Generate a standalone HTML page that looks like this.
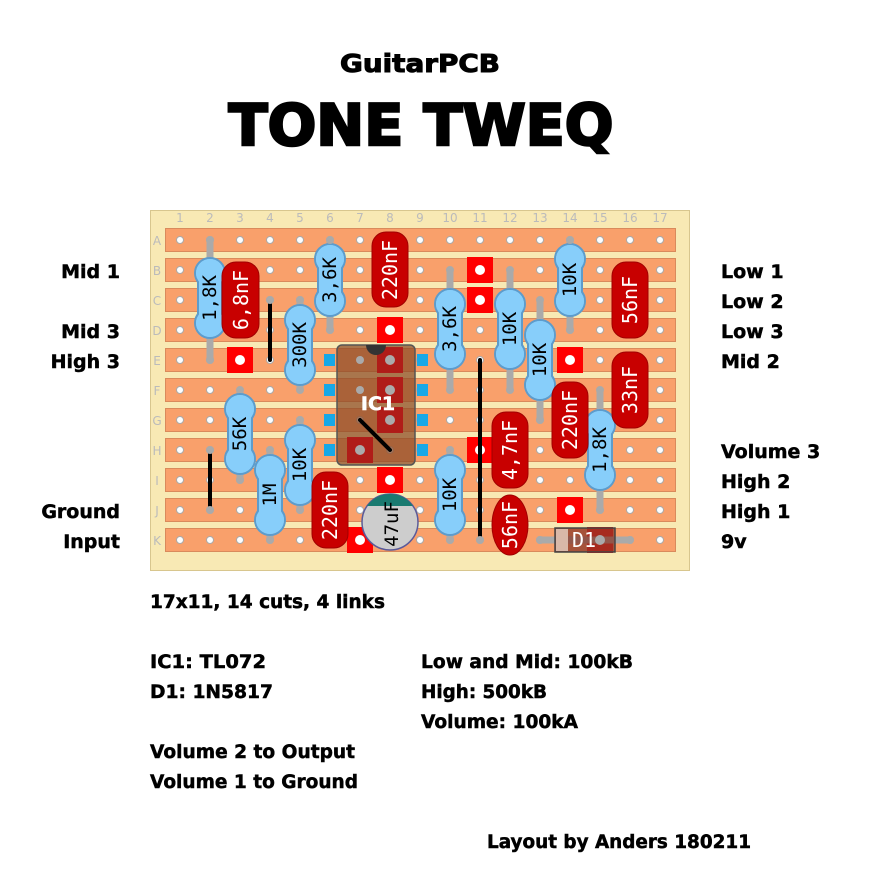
<!DOCTYPE html>
<html><head><meta charset="utf-8">
<style>
html,body{margin:0;padding:0;background:#fff;}
svg{display:block;}
.lbl{font-family:"DejaVu Sans","Liberation Sans",sans-serif;font-weight:bold;font-size:19px;fill:#000;stroke:#000;stroke-width:0.5;}
.num{font-family:"DejaVu Sans","Liberation Sans",sans-serif;font-size:12px;fill:#bbb;}
.rt{font-family:"DejaVu Sans Mono","Liberation Mono",monospace;font-size:19px;fill:#000;}
.ct{font-family:"DejaVu Sans Mono","Liberation Mono",monospace;font-size:20px;fill:#fff;}
</style></head><body>
<svg width="871" height="884" viewBox="0 0 871 884" xmlns="http://www.w3.org/2000/svg">
<rect width="871" height="884" fill="#fff"/>
<text x="420" y="72" text-anchor="middle" class="lbl" style="font-size:25px;stroke-width:1" textLength="160" lengthAdjust="spacingAndGlyphs">GuitarPCB</text>
<text x="421" y="145" text-anchor="middle" class="lbl" style="font-size:57px;stroke-width:2.5" textLength="385" lengthAdjust="spacingAndGlyphs">TONE TWEQ</text>

<!-- board -->
<rect x="150.5" y="210.5" width="539" height="360" fill="#f8e9b4" stroke="#d8c68e"/>
<g class="num" text-anchor="middle">
<text x="180" y="222">1</text><text x="210" y="222">2</text><text x="240" y="222">3</text><text x="270" y="222">4</text><text x="300" y="222">5</text><text x="330" y="222">6</text><text x="360" y="222">7</text><text x="390" y="222">8</text><text x="420" y="222">9</text><text x="450" y="222">10</text><text x="480" y="222">11</text><text x="510" y="222">12</text><text x="540" y="222">13</text><text x="570" y="222">14</text><text x="600" y="222">15</text><text x="630" y="222">16</text><text x="660" y="222">17</text>
<text x="157" y="245">A</text><text x="157" y="275">B</text><text x="157" y="305">C</text><text x="157" y="335">D</text><text x="157" y="365">E</text><text x="157" y="395">F</text><text x="157" y="425">G</text><text x="157" y="455">H</text><text x="157" y="485">I</text><text x="157" y="515">J</text><text x="157" y="545">K</text>
</g>
<g fill="#f9a06b" stroke="#d98a5c">
<rect x="165.5" y="228.5" width="510" height="23"/><rect x="165.5" y="258.5" width="510" height="23"/><rect x="165.5" y="288.5" width="510" height="23"/><rect x="165.5" y="318.5" width="510" height="23"/><rect x="165.5" y="348.5" width="510" height="23"/><rect x="165.5" y="378.5" width="510" height="23"/><rect x="165.5" y="408.5" width="510" height="23"/><rect x="165.5" y="438.5" width="510" height="23"/><rect x="165.5" y="468.5" width="510" height="23"/><rect x="165.5" y="498.5" width="510" height="23"/><rect x="165.5" y="528.5" width="510" height="23"/>
</g>
<defs>
<g id="hrow"><circle cx="180" cy="0" r="3.5"/><circle cx="210" cy="0" r="3.5"/><circle cx="240" cy="0" r="3.5"/><circle cx="270" cy="0" r="3.5"/><circle cx="300" cy="0" r="3.5"/><circle cx="330" cy="0" r="3.5"/><circle cx="360" cy="0" r="3.5"/><circle cx="390" cy="0" r="3.5"/><circle cx="420" cy="0" r="3.5"/><circle cx="450" cy="0" r="3.5"/><circle cx="480" cy="0" r="3.5"/><circle cx="510" cy="0" r="3.5"/><circle cx="540" cy="0" r="3.5"/><circle cx="570" cy="0" r="3.5"/><circle cx="600" cy="0" r="3.5"/><circle cx="630" cy="0" r="3.5"/><circle cx="660" cy="0" r="3.5"/></g>
</defs>
<g fill="#fff" stroke="#aaa" stroke-width="1">
<use href="#hrow" y="240"/><use href="#hrow" y="270"/><use href="#hrow" y="300"/><use href="#hrow" y="330"/><use href="#hrow" y="360"/><use href="#hrow" y="390"/><use href="#hrow" y="420"/><use href="#hrow" y="450"/><use href="#hrow" y="480"/><use href="#hrow" y="510"/><use href="#hrow" y="540"/>
</g>

<!-- cuts -->
<g fill="#f00">
<rect x="227" y="347" width="26" height="26"/><rect x="377" y="317" width="26" height="26"/><rect x="467" y="257" width="26" height="26"/><rect x="467" y="287" width="26" height="26"/><rect x="557" y="347" width="26" height="26"/><rect x="467" y="437" width="26" height="26"/><rect x="377" y="467" width="26" height="26"/><rect x="347" y="527" width="26" height="26"/><rect x="557" y="497" width="26" height="26"/><rect x="587" y="527" width="26" height="26"/>
</g>
<g fill="#fff">
<circle cx="240" cy="360" r="5"/><circle cx="390" cy="330" r="5"/><circle cx="480" cy="270" r="5"/><circle cx="480" cy="300" r="5"/><circle cx="570" cy="360" r="5"/><circle cx="480" cy="450" r="5"/><circle cx="390" cy="480" r="5"/><circle cx="360" cy="540" r="5"/><circle cx="570" cy="510" r="5"/>
</g>

<!-- IC -->
<rect x="337" y="345" width="78" height="120" rx="5" fill="#8a4a25" fill-opacity="0.72" stroke="#555" stroke-width="1.5"/>
<g fill="#b01515" fill-opacity="0.9">
<rect x="377" y="347" width="26" height="26"/><rect x="377" y="377" width="26" height="26"/><rect x="377" y="407" width="26" height="26"/><rect x="347" y="437" width="26" height="26"/>
</g>
<g fill="#aaa"><circle cx="360" cy="360" r="4"/><circle cx="390" cy="360" r="5"/><circle cx="360" cy="390" r="4"/><circle cx="390" cy="390" r="5"/><circle cx="390" cy="420" r="5"/><circle cx="360" cy="450" r="5"/></g>
<path d="M366,345 A10,10 0 0 0 386,345 Z" fill="#333"/>
<g fill="#18a8e8"><rect x="324" y="354" width="11" height="12"/><rect x="324" y="384" width="11" height="12"/><rect x="324" y="414" width="11" height="12"/><rect x="324" y="444" width="11" height="12"/><rect x="417" y="354" width="11" height="12"/><rect x="417" y="384" width="11" height="12"/><rect x="417" y="414" width="11" height="12"/><rect x="417" y="444" width="11" height="12"/></g>
<text x="378" y="410" text-anchor="middle" class="lbl" style="fill:#fff;stroke:#fff;font-size:19px">IC1</text>

<!-- links -->
<g stroke="#000" stroke-width="4" stroke-linecap="round">
<line x1="270" y1="300" x2="270" y2="360"/><line x1="480" y1="360" x2="480" y2="540"/><line x1="210" y1="450" x2="210" y2="510"/><line x1="360" y1="420" x2="390" y2="450"/>
</g>

<!-- resistor leads -->
<g stroke="#aaa" stroke-width="7" stroke-linecap="round">
<line x1="210" y1="240" x2="210" y2="360"/><line x1="300" y1="300" x2="300" y2="390"/><line x1="330" y1="240" x2="330" y2="330"/><line x1="450" y1="270" x2="450" y2="390"/><line x1="510" y1="270" x2="510" y2="390"/><line x1="540" y1="300" x2="540" y2="420"/><line x1="570" y1="240" x2="570" y2="330"/><line x1="600" y1="390" x2="600" y2="510"/><line x1="450" y1="450" x2="450" y2="540"/><line x1="240" y1="390" x2="240" y2="480"/><line x1="300" y1="420" x2="300" y2="510"/><line x1="270" y1="450" x2="270" y2="540"/><line x1="540" y1="540" x2="630" y2="540"/>
</g>

<!-- resistor bodies -->
<g fill="#87cefa" stroke="#5d9ccc" stroke-width="2">
<circle cx="210" cy="273" r="15"/><circle cx="210" cy="323" r="15"/><rect x="198" y="273" width="24" height="50"/>
<circle cx="300" cy="320" r="15"/><circle cx="300" cy="370" r="15"/><rect x="288" y="320" width="24" height="50"/>
<circle cx="330" cy="259" r="15"/><circle cx="330" cy="301" r="15"/><rect x="318" y="259" width="24" height="42"/>
<circle cx="450" cy="304" r="15"/><circle cx="450" cy="354" r="15"/><rect x="438" y="304" width="24" height="50"/>
<circle cx="510" cy="304" r="15"/><circle cx="510" cy="354" r="15"/><rect x="498" y="304" width="24" height="50"/>
<circle cx="540" cy="335" r="15"/><circle cx="540" cy="385" r="15"/><rect x="528" y="335" width="24" height="50"/>
<circle cx="570" cy="259" r="15"/><circle cx="570" cy="301" r="15"/><rect x="558" y="259" width="24" height="42"/>
<circle cx="600" cy="425" r="15"/><circle cx="600" cy="475" r="15"/><rect x="588" y="425" width="24" height="50"/>
<circle cx="450" cy="470" r="15"/><circle cx="450" cy="520" r="15"/><rect x="438" y="470" width="24" height="50"/>
<circle cx="240" cy="409" r="15"/><circle cx="240" cy="459" r="15"/><rect x="228" y="409" width="24" height="50"/>
<circle cx="300" cy="440" r="15"/><circle cx="300" cy="490" r="15"/><rect x="288" y="440" width="24" height="50"/>
<circle cx="270" cy="470" r="15"/><circle cx="270" cy="520" r="15"/><rect x="258" y="470" width="24" height="50"/>
</g>
<g fill="#87cefa">
<circle cx="210" cy="273" r="14"/><circle cx="210" cy="323" r="14"/><rect x="199" y="273" width="22" height="50"/>
<circle cx="300" cy="320" r="14"/><circle cx="300" cy="370" r="14"/><rect x="289" y="320" width="22" height="50"/>
<circle cx="330" cy="259" r="14"/><circle cx="330" cy="301" r="14"/><rect x="319" y="259" width="22" height="42"/>
<circle cx="450" cy="304" r="14"/><circle cx="450" cy="354" r="14"/><rect x="439" y="304" width="22" height="50"/>
<circle cx="510" cy="304" r="14"/><circle cx="510" cy="354" r="14"/><rect x="499" y="304" width="22" height="50"/>
<circle cx="540" cy="335" r="14"/><circle cx="540" cy="385" r="14"/><rect x="529" y="335" width="22" height="50"/>
<circle cx="570" cy="259" r="14"/><circle cx="570" cy="301" r="14"/><rect x="559" y="259" width="22" height="42"/>
<circle cx="600" cy="425" r="14"/><circle cx="600" cy="475" r="14"/><rect x="589" y="425" width="22" height="50"/>
<circle cx="450" cy="470" r="14"/><circle cx="450" cy="520" r="14"/><rect x="439" y="470" width="22" height="50"/>
<circle cx="240" cy="409" r="14"/><circle cx="240" cy="459" r="14"/><rect x="229" y="409" width="22" height="50"/>
<circle cx="300" cy="440" r="14"/><circle cx="300" cy="490" r="14"/><rect x="289" y="440" width="22" height="50"/>
<circle cx="270" cy="470" r="14"/><circle cx="270" cy="520" r="14"/><rect x="259" y="470" width="22" height="50"/>
</g>
<g class="rt" text-anchor="middle" dominant-baseline="central">
<text transform="translate(210,298) rotate(-90)">1,8K</text>
<text transform="translate(300,345) rotate(-90)">300K</text>
<text transform="translate(330,280) rotate(-90)">3,6K</text>
<text transform="translate(450,329) rotate(-90)">3,6K</text>
<text transform="translate(510,329) rotate(-90)">10K</text>
<text transform="translate(540,360) rotate(-90)">10K</text>
<text transform="translate(570,280) rotate(-90)">10K</text>
<text transform="translate(600,450) rotate(-90)">1,8K</text>
<text transform="translate(450,495) rotate(-90)">10K</text>
<text transform="translate(240,434) rotate(-90)">56K</text>
<text transform="translate(300,465) rotate(-90)">10K</text>
<text transform="translate(270,495) rotate(-90)">1M</text>
</g>

<!-- capacitors -->
<g fill="#c80000" stroke="#a00000" stroke-width="1">
<rect x="222" y="262" width="37" height="76" rx="14"/>
<rect x="372" y="232" width="36" height="75" rx="14"/>
<rect x="612" y="262" width="36" height="76" rx="14"/>
<rect x="612" y="352" width="36" height="76" rx="14"/>
<rect x="552" y="382" width="36" height="76" rx="14"/>
<rect x="492" y="412" width="36" height="76" rx="14"/>
<ellipse cx="510" cy="525" rx="18" ry="30"/>
<rect x="312" y="472" width="36" height="76" rx="14"/>
</g>
<g class="ct" text-anchor="middle" dominant-baseline="central">
<text transform="translate(241,300) rotate(-90)">6,8nF</text>
<text transform="translate(390,270) rotate(-90)">220nF</text>
<text transform="translate(630,300) rotate(-90)">56nF</text>
<text transform="translate(630,390) rotate(-90)">33nF</text>
<text transform="translate(570,420) rotate(-90)">220nF</text>
<text transform="translate(510,450) rotate(-90)">4,7nF</text>
<text transform="translate(510,525) rotate(-90)">56nF</text>
<text transform="translate(330,510) rotate(-90)">220nF</text>
</g>

<!-- electrolytic -->
<circle cx="390" cy="522" r="28" fill="#cdcdcd" stroke="#5a5a9a" stroke-width="1.5"/>
<path d="M367,506 A28,28 0 0 1 413,506 Z" fill="#1a7a70"/>
<text transform="translate(392,524) rotate(-90)" class="rt" text-anchor="middle" dominant-baseline="central">47uF</text>

<!-- diode -->
<rect x="555" y="528" width="60" height="24" fill="#8a3a2a" fill-opacity="0.75" stroke="#444" stroke-width="1.5"/>
<rect x="556" y="529" width="12" height="22" fill="#d8b8a8"/>
<circle cx="600" cy="540" r="5" fill="#aaa"/>
<text x="584" y="540" class="ct" text-anchor="middle" dominant-baseline="central">D1</text>

<!-- lead-end holes (grey) -->
<g fill="#aaa">
<circle cx="210" cy="240" r="4"/><circle cx="210" cy="360" r="4"/><circle cx="270" cy="300" r="4"/><circle cx="300" cy="300" r="4"/><circle cx="330" cy="240" r="4"/><circle cx="330" cy="330" r="4"/><circle cx="570" cy="240" r="4"/><circle cx="570" cy="330" r="4"/><circle cx="540" cy="420" r="4"/><circle cx="600" cy="510" r="4"/><circle cx="450" cy="450" r="4"/><circle cx="450" cy="540" r="4"/><circle cx="270" cy="540" r="4"/><circle cx="240" cy="480" r="4"/><circle cx="300" cy="420" r="4"/><circle cx="300" cy="510" r="4"/><circle cx="270" cy="450" r="4"/><circle cx="210" cy="450" r="4"/><circle cx="210" cy="510" r="4"/><circle cx="540" cy="540" r="4"/><circle cx="630" cy="540" r="4"/><circle cx="480" cy="540" r="4"/>
</g>

<!-- side labels -->
<g class="lbl" text-anchor="end">
<text x="120" y="278">Mid 1</text><text x="120" y="338">Mid 3</text><text x="120" y="368">High 3</text><text x="120" y="518">Ground</text><text x="120" y="548">Input</text>
</g>
<g class="lbl">
<text x="721" y="278">Low 1</text><text x="721" y="308">Low 2</text><text x="721" y="338">Low 3</text><text x="721" y="368">Mid 2</text><text x="721" y="458">Volume 3</text><text x="721" y="488">High 2</text><text x="721" y="518">High 1</text><text x="721" y="548">9v</text>
</g>

<!-- notes -->
<g class="lbl">
<text x="150" y="608" textLength="235" lengthAdjust="spacingAndGlyphs">17x11, 14 cuts, 4 links</text>
<text x="150" y="668" textLength="116" lengthAdjust="spacingAndGlyphs">IC1: TL072</text>
<text x="150" y="698" textLength="123" lengthAdjust="spacingAndGlyphs">D1: 1N5817</text>
<text x="150" y="758" textLength="205" lengthAdjust="spacingAndGlyphs">Volume 2 to Output</text>
<text x="150" y="788" textLength="208" lengthAdjust="spacingAndGlyphs">Volume 1 to Ground</text>
<text x="421" y="668" textLength="212" lengthAdjust="spacingAndGlyphs">Low and Mid: 100kB</text>
<text x="421" y="698" textLength="126" lengthAdjust="spacingAndGlyphs">High: 500kB</text>
<text x="421" y="728" textLength="157" lengthAdjust="spacingAndGlyphs">Volume: 100kA</text>
<text x="487" y="848" textLength="264" lengthAdjust="spacingAndGlyphs">Layout by Anders 180211</text>
</g>
</svg>
</body></html>
